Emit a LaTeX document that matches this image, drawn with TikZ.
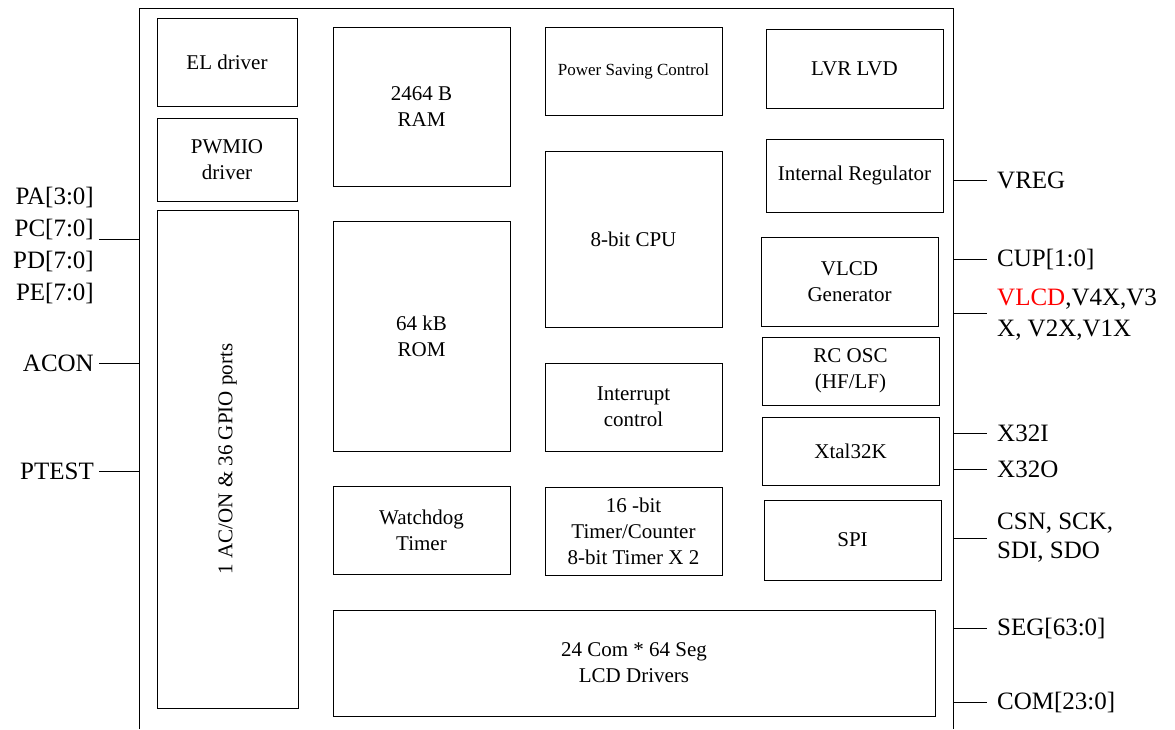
\documentclass[tikz,border=0pt]{standalone}
\usepackage{fontspec}
\setmainfont{Liberation Serif}
\usepackage{xcolor}
\usetikzlibrary{positioning}

\begin{document}
\begin{tikzpicture}[
  x=1pt, y=-1pt,
  blk/.style={draw, line width=1pt, inner sep=2pt, align=center, font=\fontsize{21}{26}\selectfont},
  pin/.style={inner sep=5pt, align=left, font=\fontsize{25}{31}\selectfont},
  lpin/.style={pin, align=right},
  wire/.style={line width=1pt},
  node distance=39pt
]
\useasboundingbox (0,0) rectangle (1175,729);

% chip outline (open at the bottom)
\coordinate (fbl) at (139,729);
\coordinate (ftl) at (139,8);
\coordinate (ftr) at (953,8);
\coordinate (fbr) at (953,729);
\draw[wire] (fbl) -- (ftl) -- (ftr) -- (fbr);

% left column
\node[blk, minimum width=140, minimum height=88] (eldrv) at (227,62) {EL driver};
\node[blk, minimum width=140, minimum height=83] (pwmio) at (227,159.5) {PWMIO\\driver};
\node[blk, minimum width=141, minimum height=498] (gpio) at (227.5,459) {};
\node[font=\fontsize{21}{26}\selectfont, rotate=90] (gpiotxt) at (gpio.center) {1 AC/ON \& 36 GPIO ports};

% memories
\node[blk, minimum width=177, minimum height=159] (ram) at (421.5,106.5) {2464 B\\RAM};
\node[blk, minimum width=177, minimum height=230] (rom) at (421.5,336) {64 kB\\ROM};
\node[blk, minimum width=177, minimum height=88] (wdt) at (421.5,530) {Watchdog\\Timer};

% core
\node[blk, minimum width=177, minimum height=88, font=\fontsize{17}{21}\selectfont] (psc) at (633.5,71) {Power Saving Control};
\node[blk, minimum width=177, minimum height=176] (cpu) at (633.5,239) {8-bit CPU};
\node[blk, minimum width=177, minimum height=88] (intc) at (633.5,407) {Interrupt\\control};
\node[blk, minimum width=177, minimum height=88] (tmr) at (633.5,531) {16 -bit\\Timer/Counter\\8-bit Timer X 2};
\node[blk, minimum width=602, minimum height=106] (lcd) at (634,663) {24 Com * 64 Seg\\LCD Drivers};

% analog / peripherals
\node[blk, minimum width=177, minimum height=79] (lvr) at (854.5,68.5) {LVR LVD};
\node[blk, minimum width=177, minimum height=73] (ireg) at (854.5,175.5) {Internal Regulator};
\node[blk, minimum width=177, minimum height=89] (vlcdgen) at (849.5,281.5) {VLCD\\Generator};
\node[blk, minimum width=177, minimum height=68] (rcosc) at (850.5,371) {RC OSC\\(HF/LF)};
\node[blk, minimum width=177, minimum height=68] (xtal) at (850.5,451) {Xtal32K};
\node[blk, minimum width=177, minimum height=80] (spi) at (852.5,540) {SPI};

% left pins
\coordinate (pport) at (139,239);
\coordinate (pacon) at (139,363);
\coordinate (ptest) at (139,471);
\node[lpin, left=40pt of pport, yshift=-6pt, font=\fontsize{25}{32}\selectfont] (ports) {PA[3:0]\\PC[7:0]\\PD[7:0]\\PE[7:0]};
\node[lpin, left=40pt of pacon] (acon) {ACON};
\node[lpin, left=40pt of ptest] (ptst) {PTEST};

\draw[wire] (ports.east |- pport) -- (pport);
\draw[wire] (acon) -- (pacon);
\draw[wire] (ptst) -- (ptest);

% right pins
\coordinate (pvreg) at (953,180);
\coordinate (pcup) at (953,259);
\coordinate (pvlcd) at (953,313);
\coordinate (px32i) at (953,433);
\coordinate (px32o) at (953,469);
\coordinate (pspi) at (953,538);
\coordinate (pseg) at (953,628);
\coordinate (pcom) at (953,702);
\node[pin, right=of pvreg] (vreg) {VREG};
\node[pin, right=of pcup] (cup) {CUP[1:0]};
\node[pin, right=of pvlcd, yshift=-2pt] (vlcd) {\textcolor{red}{VLCD},V4X,V3\\X, V2X,V1X};
\node[pin, right=of pspi, font=\fontsize{25}{29}\selectfont] (spipins) {CSN, SCK,\\SDI, SDO};
\node[pin, right=of px32i] (x32i) {X32I};
\node[pin, right=of px32o] (x32o) {X32O};
\node[pin, right=of pseg] (seg) {SEG[63:0]};
\node[pin, right=of pcom] (com) {COM[23:0]};

\draw[wire, shorten >=5pt] (pvreg) -- (vreg);
\draw[wire, shorten >=5pt] (pcup) -- (cup);
\draw[wire, shorten >=5pt] (pvlcd) -- (vlcd.west |- pvlcd);
\draw[wire, shorten >=5pt] (px32i) -- (x32i);
\draw[wire, shorten >=5pt] (px32o) -- (x32o);
\draw[wire, shorten >=5pt] (pspi) -- (spipins.west |- pspi);
\draw[wire, shorten >=5pt] (pseg) -- (seg);
\draw[wire, shorten >=5pt] (pcom) -- (com);

\end{tikzpicture}
\end{document}
